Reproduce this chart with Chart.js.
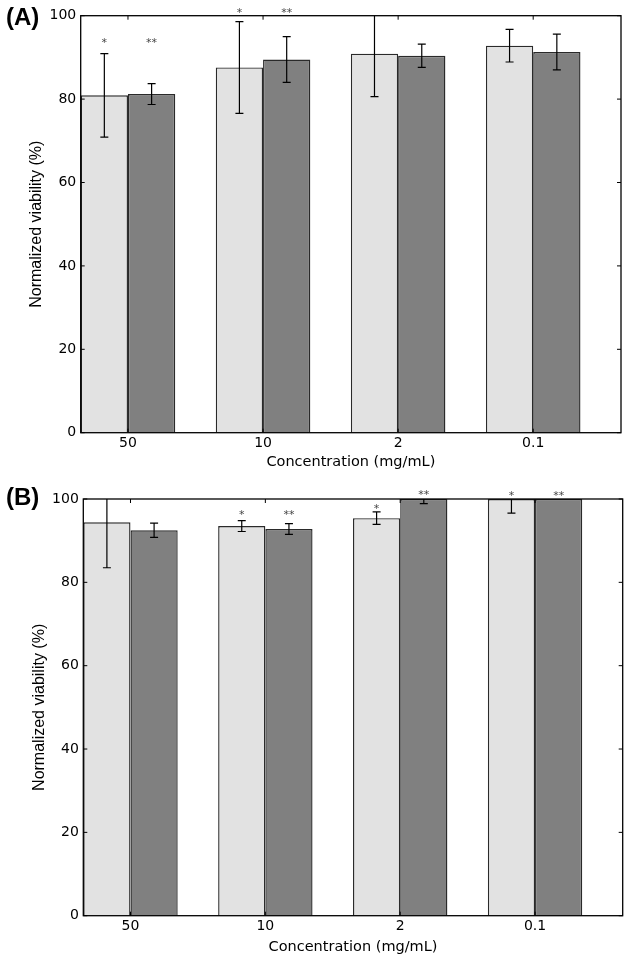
<!DOCTYPE html>
<html>
<head>
<meta charset="utf-8">
<script src="https://cdn.jsdelivr.net/npm/chart.js@4.4.1/dist/chart.umd.min.js"></script>
<style>
html, body { margin: 0; padding: 0; background: #fff; }
body { width: 631px; height: 962px; position: relative; overflow: hidden; }
.panel { position: absolute; left: 0; width: 631px; height: 481px; }
.tag { position: absolute; left: 6px; font: bold 24px 'Liberation Sans', Arial, sans-serif; line-height: 24px; color: #000; }
</style>
</head>
<body>
<div class="panel" style="top:0"><canvas id="chartA" width="631" height="481"></canvas></div>
<div class="panel" style="top:481px"><canvas id="chartB" width="631" height="481"></canvas></div>
<div class="tag" style="top:5px">(A)</div>
<div class="tag" style="top:485px">(B)</div>
<script>
// categories and ticks
const concentrations = ['50', '10', '2', '0.1'];
const yTickValues = [0, 20, 40, 60, 80, 100];

// Panel A
const meanA1 = [80.9, 87.6, 90.9, 92.8];
const errA1 = [10.0, 11.0, 10.3, 3.9];
const meanA2 = [81.2, 89.5, 90.4, 91.3];
const errA2 = [2.5, 5.5, 2.8, 4.3];
const starsA1 = ['*', '*', '', ''];
const starsA2 = ['**', '**', '', ''];
const starLevelA1 = [94.2, 101.5, null, null];
const starLevelA2 = [94.2, 101.5, null, null];

// Panel B
const meanB1 = [94.4, 93.5, 95.4, 100];
const errB1 = [10.9, 1.3, 1.5, 3.4];
const meanB2 = [92.5, 92.8, 100, 100];
const errB2 = [1.7, 1.3, 1.1, 0];
const starsB1 = ['', '*', '*', '*'];
const starsB2 = ['', '**', '**', '**'];
const starLevelB1 = [null, 97.1, 98.4, 101.6];
const starLevelB2 = [null, 97.1, 101.9, 101.6];

const tickFont = { family: "'DejaVu Sans', sans-serif", size: 14 };

// error bars + asterisks drawn from the bar elements and the y scale
const errorBarPlugin = {
    id: 'errorBars',
    afterDatasetsDraw(chart) {
        const ctx = chart.ctx;
        const area = chart.chartArea;
        const yScale = chart.scales.y;
        chart.data.datasets.forEach((ds, d) => {
            const meta = chart.getDatasetMeta(d);
            meta.data.forEach((bar, i) => {
                const v = ds.data[i].y;
                const e = ds.errors[i];
                if (e > 0) {
                    const top = yScale.getPixelForValue(v + e);
                    const bot = yScale.getPixelForValue(v - e);
                    ctx.save();
                    ctx.beginPath();
                    ctx.rect(area.left, area.top, area.right - area.left, area.bottom - area.top);
                    ctx.clip();
                    ctx.strokeStyle = '#000';
                    ctx.lineWidth = 1.2;
                    ctx.beginPath();
                    ctx.moveTo(bar.x, top);
                    ctx.lineTo(bar.x, bot);
                    ctx.moveTo(bar.x - 4, top);
                    ctx.lineTo(bar.x + 4, top);
                    ctx.moveTo(bar.x - 4, bot);
                    ctx.lineTo(bar.x + 4, bot);
                    ctx.stroke();
                    ctx.restore();
                }
                const mark = ds.stars[i];
                if (mark && ds.starLevels[i] != null) {
                    ctx.save();
                    ctx.fillStyle = '#444';
                    ctx.font = "11px 'DejaVu Sans', sans-serif";
                    ctx.textAlign = 'center';
                    ctx.textBaseline = 'alphabetic';
                    ctx.fillText(mark, bar.x, yScale.getPixelForValue(ds.starLevels[i]) + 6.5);
                    ctx.restore();
                }
            });
        });
    }
};

// box frame with inward ticks on all four sides
const framePlugin = {
    id: 'frame',
    afterDraw(chart) {
        const ctx = chart.ctx;
        const a = chart.chartArea;
        ctx.save();
        ctx.strokeStyle = '#000';
        ctx.lineWidth = 1;
        ctx.beginPath();
        chart.scales.y.ticks.forEach(t => {
            const y = chart.scales.y.getPixelForValue(t.value);
            ctx.moveTo(a.left, y); ctx.lineTo(a.left + 4, y);
            ctx.moveTo(a.right, y); ctx.lineTo(a.right - 4, y);
        });
        chart.scales.x.ticks.forEach(t => {
            const x = chart.scales.x.getPixelForValue(t.value);
            ctx.moveTo(x, a.top); ctx.lineTo(x, a.top + 4);
            ctx.moveTo(x, a.bottom); ctx.lineTo(x, a.bottom - 4);
        });
        ctx.stroke();
        ctx.lineWidth = 1.3;
        ctx.strokeRect(a.left, a.top, a.right - a.left, a.bottom - a.top);
        ctx.restore();
    }
};

function makeChart(id, series, layout) {
    return new Chart(document.getElementById(id), {
        type: 'bar',
        data: {
            datasets: series.map(s => ({
                data: concentrations.map((c, i) => ({ x: i, y: s.mean[i] })),
                errors: s.err,
                stars: s.stars,
                starLevels: s.levels,
                backgroundColor: s.color,
                borderColor: '#2a2a2a',
                borderWidth: 1.4,
                categoryPercentage: 0.7,
                barPercentage: 1.0
            }))
        },
        options: {
            responsive: false,
            animation: false,
            layout: { padding: { top: layout.top, right: layout.right, left: 0, bottom: 0 } },
            plugins: { legend: { display: false }, tooltip: { enabled: false } },
            scales: {
                x: {
                    type: 'linear',
                    min: -0.35,
                    max: 3.65,
                    offset: false,
                    grid: { display: false, drawTicks: false },
                    border: { display: false },
                    afterBuildTicks: (scale) => { scale.ticks = concentrations.map((c, i) => ({ value: i })); },
                    afterFit: (scale) => { scale.height = layout.xHeight; },
                    ticks: {
                        autoSkip: false,
                        maxRotation: 0,
                        padding: 2,
                        color: '#000',
                        font: tickFont,
                        callback: (value) => concentrations[value]
                    },
                    title: {
                        display: true,
                        text: 'Concentration (mg/mL)',
                        color: '#000',
                        font: { family: "'DejaVu Sans', sans-serif", size: 14.5, lineHeight: 1.2 },
                        padding: { bottom: layout.xTitlePad, top: 0 }
                    }
                },
                y: {
                    min: 0,
                    max: 100,
                    grid: { display: false, drawTicks: false },
                    border: { display: false },
                    afterBuildTicks: (scale) => { scale.ticks = yTickValues.map(v => ({ value: v })); },
                    afterFit: (scale) => { scale.width = layout.yWidth; },
                    ticks: { padding: 4.5, color: '#000', font: tickFont },
                    title: {
                        display: true,
                        text: 'Normalized viability (%)',
                        color: '#000',
                        font: { family: "'Liberation Sans', Arial, sans-serif", size: 16, lineHeight: 1.2 },
                        padding: { top: layout.yTitlePad, bottom: 0 }
                    }
                }
            }
        },
        plugins: [errorBarPlugin, framePlugin]
    });
}

makeChart('chartA', [
    { mean: meanA1, err: errA1, stars: starsA1, levels: starLevelA1, color: '#e2e2e2' },
    { mean: meanA2, err: errA2, stars: starsA2, levels: starLevelA2, color: '#808080' }
], { top: 15.7, right: 10, yWidth: 80.7, xHeight: 48.3, xTitlePad: 9.6, yTitlePad: 27.1 });

makeChart('chartB', [
    { mean: meanB1, err: errB1, stars: starsB1, levels: starLevelB1, color: '#e2e2e2' },
    { mean: meanB2, err: errB2, stars: starsB2, levels: starLevelB2, color: '#808080' }
], { top: 18, right: 8.3, yWidth: 83.3, xHeight: 46.3, xTitlePad: 6, yTitlePad: 29.7 });
</script>
</body>
</html>
